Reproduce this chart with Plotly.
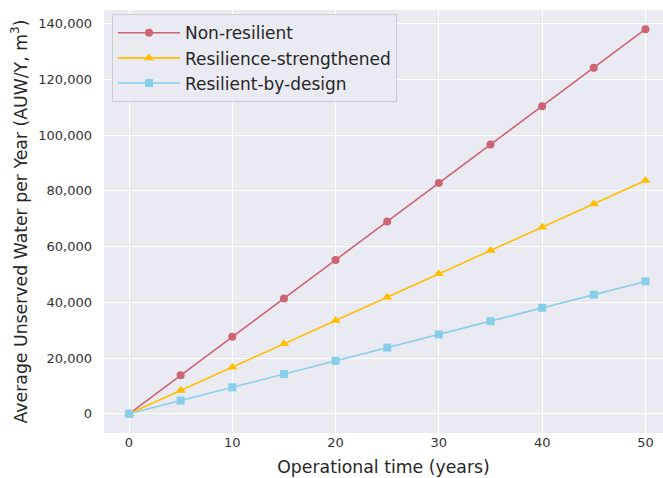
import plotly.graph_objects as go

years = [0, 5, 10, 15, 20, 25, 30, 35, 40, 45, 50]
non_resilient = [0, 13800, 27600, 41400, 55200, 69000, 82800, 96600, 110400, 124200, 138000]
resilience_strengthened = [0, 8370, 16740, 25100, 33470, 41840, 50210, 58580, 66950, 75320, 83700]
resilient_by_design = [0, 4750, 9500, 14250, 19000, 23750, 28500, 33250, 38000, 42750, 47500]

series = [
    ("Non-resilient", non_resilient, "#CD6474", "circle"),
    ("Resilience-strengthened", resilience_strengthened, "#FFBF00", "triangle-up"),
    ("Resilient-by-design", resilient_by_design, "#87CEEB", "square"),
]

fig = go.Figure()
for name, vals, color, sym in series:
    fig.add_trace(go.Scatter(
        x=years, y=vals, name=name, mode="lines+markers",
        line=dict(color=color, width=1.6),
        marker=dict(color=color, symbol=sym, size=8 if sym != "triangle-up" else 9, line=dict(width=0)),
    ))

fig.update_layout(
    width=663, height=478,
    margin=dict(l=104, r=0, t=10, b=45),
    paper_bgcolor="white",
    plot_bgcolor="#EAEAF2",
    font=dict(family="DejaVu Sans", color="#262626", size=13),
    showlegend=True,
    legend=dict(
        x=0.0143, y=0.99, xanchor="left", yanchor="top",
        bgcolor="rgba(234,234,242,0.9)", bordercolor="#CCCCCC", borderwidth=1,
        font=dict(size=17, color="#262626"),
        tracegroupgap=0, itemwidth=62,
    ),
    xaxis=dict(
        range=[-2.42, 51.7], tickvals=[0, 10, 20, 30, 40, 50],
        showgrid=True, gridcolor="white", gridwidth=1.2, zeroline=False,
        showline=False, ticks="", tickfont=dict(size=13, color="#333333"),
        title=dict(text="Operational time (years)", font=dict(size=17.3, color="#262626"), standoff=11),
    ),
    yaxis=dict(
        range=[-6900, 144900], tickvals=[0, 20000, 40000, 60000, 80000, 100000, 120000, 140000],
        tickformat=",", showgrid=True, gridcolor="white", gridwidth=1.2, zeroline=False,
        showline=False, ticks="", tickfont=dict(size=13, color="#333333"),
        ticklabelstandoff=11,
        title=dict(text="Average Unserved Water per Year (AUW/Y, m<sup>3</sup>)", font=dict(size=17.3, color="#262626"), standoff=6),
    ),
)

fig.write_html("out.html", config={"displayModeBar": False},
               post_script="document.body.style.margin='0';")
